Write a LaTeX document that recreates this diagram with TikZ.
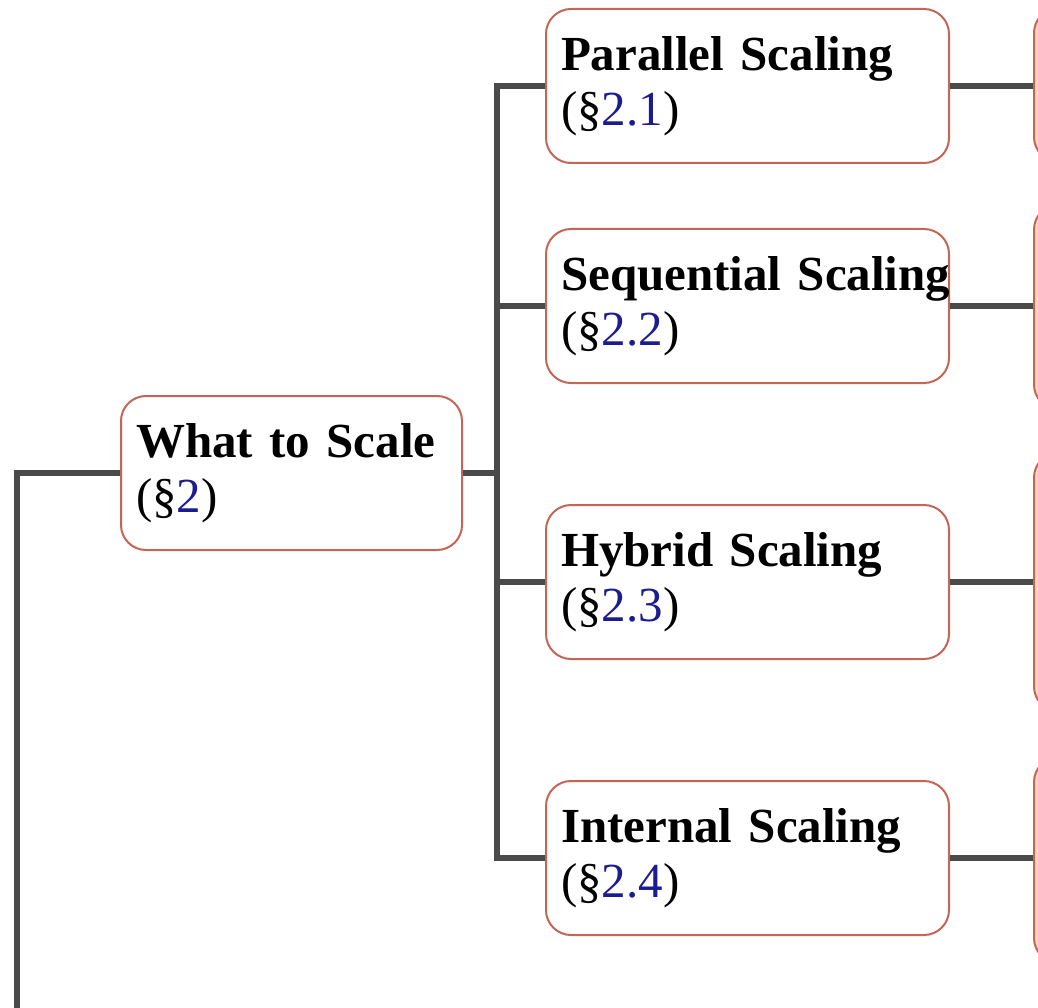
\documentclass[tikz,border=0pt]{standalone}
\usepackage{fontspec}
\setmainfont{Liberation Serif}
\definecolor{boxline}{RGB}{196,102,86}
\definecolor{conncol}{RGB}{74,74,74}
\definecolor{refblue}{RGB}{28,28,145}
\definecolor{leaffill}{RGB}{250,214,188}
\newcommand{\secref}[1]{(\S\textcolor{refblue}{#1})}
\tikzset{
  catbox/.style={draw=boxline, line width=2pt, fill=white, rounded corners=25pt,
    anchor=west, minimum width=403pt, minimum height=154pt,
    text width=373pt, inner xsep=15pt, inner ysep=0pt, align=left,
    font=\fontsize{49}{55}\selectfont},
  leafbox/.style={draw=boxline, line width=2pt, fill=leaffill, rounded corners=25pt,
    anchor=west, minimum width=300pt},
  conn/.style={draw=conncol, line width=6pt, line join=miter}
}
\begin{document}
\begin{tikzpicture}[x=1pt,y=-1pt]
  \useasboundingbox (0,0) rectangle (1038,1008);
  \clip (0,0) rectangle (1038,1008);

  % root category
  \node[catbox, minimum width=341pt, text width=311pt] (what) at (120,473)
    {\mbox{\textbf{What to Scale}}\\\secref{2}};

  % second level
  \node[catbox] (par) at (545,86)  {\mbox{\textbf{Parallel Scaling}}\\\secref{2.1}};
  \node[catbox] (seq) at (545,306) {\mbox{\textbf{Sequential Scaling}}\\\secref{2.2}};
  \node[catbox] (hyb) at (545,582) {\mbox{\textbf{Hybrid Scaling}}\\\secref{2.3}};
  \node[catbox] (int) at (545,858) {\mbox{\textbf{Internal Scaling}}\\\secref{2.4}};

  % leaf boxes at the right edge
  \node[leafbox, minimum height=154pt] (lpar) at (1033,85) {};
  \node[leafbox, minimum height=205pt] (lseq) at (1033,307) {};
  \node[leafbox, minimum height=259pt] (lhyb) at (1033,582) {};
  \node[leafbox, minimum height=206pt] (lint) at (1033,860) {};

  % connectors
  \coordinate (rootbot) at (17,1020);
  \coordinate (fork) at (497,473);
  \draw[conn] (rootbot) |- (what.west);
  \draw[conn] (what.east) -- (fork);
  \draw[conn] (fork) |- (par.west);
  \draw[conn] (fork) |- (seq.west);
  \draw[conn] (fork) |- (hyb.west);
  \draw[conn] (fork) |- (int.west);
  \draw[conn] (par.east) -- (par.east -| lpar.west);
  \draw[conn] (seq.east) -- (seq.east -| lseq.west);
  \draw[conn] (hyb.east) -- (hyb.east -| lhyb.west);
  \draw[conn] (int.east) -- (int.east -| lint.west);
\end{tikzpicture}
\end{document}
